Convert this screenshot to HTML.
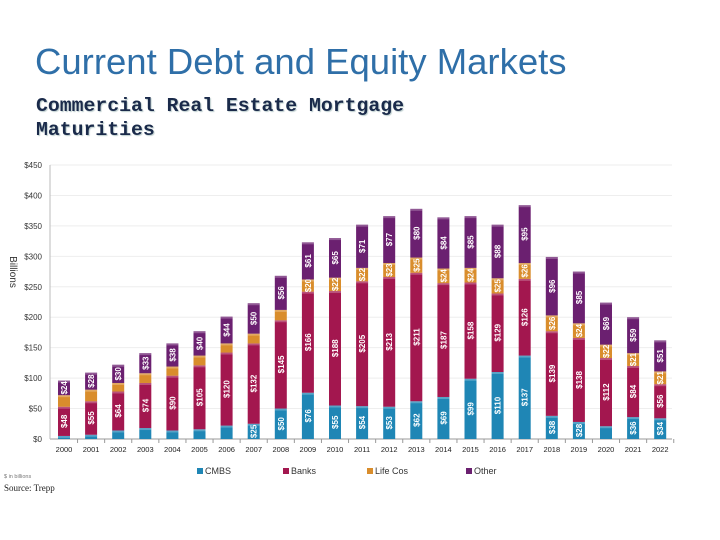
<!DOCTYPE html>
<html><head><meta charset="utf-8">
<style>
body{margin:0;background:#fff;width:720px;height:540px;overflow:hidden;position:relative;font-family:"Liberation Sans",sans-serif}
#title{position:absolute;left:35px;top:41px;font-size:36.5px;color:#2f6fa8;white-space:nowrap}
#sub{position:absolute;left:36px;top:94px;font-family:"Liberation Mono",monospace;font-weight:bold;font-size:19.8px;line-height:24px;color:#1a2a4a;text-shadow:1px 1px 1px #bcc}
svg{position:absolute;left:0;top:0}
</style></head><body>
<div id="title">Current Debt and Equity Markets</div>
<div id="sub">Commercial Real Estate Mortgage<br>Maturities</div>
<svg id="chart" width="720" height="540"></svg>
<script>
const years=["2000","2001","2002","2003","2004","2005","2006","2007","2008","2009","2010","2011","2012","2013","2014","2015","2016","2017","2018","2019","2020","2021","2022"];
const cmbs=[5,7,14,18,14,16,22,25,50,76,55,54,53,62,69,99,110,137,38,28,21,36,34];
const banks=[48,55,64,74,90,105,120,132,145,166,188,205,213,211,187,158,129,126,139,138,112,84,56];
const lifeCos=[19,19,14,16,15,16,15,16,17,20,22,22,23,25,24,24,25,26,26,24,22,21,21];
const other=[24,28,30,33,38,40,44,50,56,61,65,71,77,80,84,85,88,95,96,85,69,59,51];
const yTicks=[0,50,100,150,200,250,300,350,400,450];
const seriesNames=["CMBS","Banks","Life Cos","Other"];
const colors=["#1f86b5","#a3174f","#d98d2c","#6b2070"];
const NS="http://www.w3.org/2000/svg";
const svg=document.getElementById('chart');
const x0=64,dx=27.1,bw=12,yBase=439,yTop=165;
const yS=v=>yBase-(yBase-yTop)*v/450;
const xS=i=>x0+i*dx;
function mk(t,a){const e=document.createElementNS(NS,t);for(const k in a)e.setAttribute(k,a[k]);svg.appendChild(e);return e;}
yTicks.forEach(v=>{
  const g=mk('line',{x1:50,x2:672,y1:yS(v),y2:yS(v),stroke:v?"#eeeeee":"#999","stroke-width":1});
  
  
  const t=mk('text',{x:42,y:yS(v)+3,"text-anchor":"end","font-size":8,fill:"#333"});
  t.textContent="$"+v;
  
  
});
const ax=mk('line',{x1:50,x2:50,y1:yTop,y2:yBase,stroke:"#bbb"});


const yl=mk('text',{x:10,y:272,"font-size":10,fill:"#333","text-anchor":"middle",transform:"rotate(90 10 272)"});
yl.textContent="Billions";


const data=[cmbs,banks,lifeCos,other];
years.forEach((yr,i)=>{
  const cx=xS(i);
  const tk=mk('line',{x1:cx+dx/2,x2:cx+dx/2,y1:yBase,y2:yBase+4,stroke:"#999"});
  
  
  const lt=mk('text',{x:cx,y:452,"text-anchor":"middle","font-size":7.5,fill:"#222"});
  lt.textContent=yr;
  
  
  let acc=0;
  data.forEach((s,k)=>{
    const v=s[i];
    const y1=yS(acc+v),y2=yS(acc);
    const r=mk('rect',{x:cx-bw/2,y:y1,width:bw,height:y2-y1,fill:colors[k]});
    
    
    const hl=mk('rect',{x:cx-bw/2,y:y1,width:bw,height:Math.min(2,y2-y1),fill:"#fff","fill-opacity":0.25});
    
    
    let show=(y2-y1)>=12;
    if(k===0&&v<25)show=false;
    if(k===2&&i<9)show=false;
    if(show){
      const my=(y1+y2)/2;
      const t=mk('text',{x:cx+3,y:my,"text-anchor":"middle","font-size":8,"font-weight":"bold",fill:"#fff",transform:`rotate(-90 ${cx+3} ${my})`});
      t.textContent="$"+v;
      
      
    }
    acc+=v;
  });
});
const legX=[197,283,367,466];
seriesNames.forEach((n,k)=>{
  const r=mk('rect',{x:legX[k],y:468,width:6,height:6,fill:colors[k]});
  
  
  const t=mk('text',{x:legX[k]+8,y:474,"font-size":9,fill:"#333"});
  t.textContent=n;
  
  
});
const u=mk('text',{x:4,y:478,"font-size":5.5,fill:"#777"});
u.textContent="$ in billions";


const src=mk('text',{x:4,y:491,"font-size":9,fill:"#222","font-family":"Liberation Serif,serif"});
src.textContent="Source: Trepp";


</script>
</body></html>
